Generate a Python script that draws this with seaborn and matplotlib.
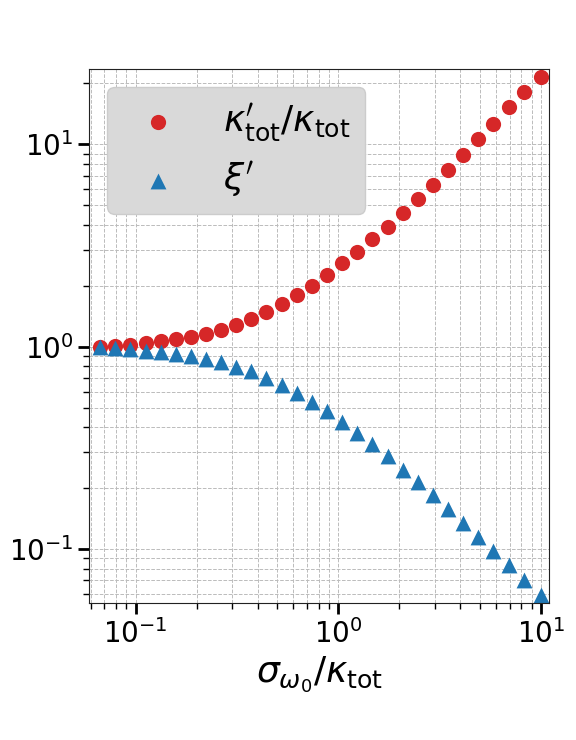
import numpy as np
import pandas as pd
import matplotlib
matplotlib.use("Agg")
import matplotlib.pyplot as plt
import seaborn as sns

# sigma_w0 / kappa_tot
x_vals = [0.0667, 0.0792, 0.0941, 0.112, 0.133, 0.158, 0.187, 0.222, 0.264, 0.314,
          0.372, 0.442, 0.525, 0.623, 0.740, 0.879, 1.04, 1.24, 1.47, 1.75,
          2.08, 2.47, 2.93, 3.48, 4.13, 4.91, 5.83, 6.92, 8.22, 10.0]
kappa_ratio = [1.00, 1.01, 1.02, 1.04, 1.06, 1.09, 1.12, 1.16, 1.21, 1.28,
               1.37, 1.48, 1.62, 1.79, 1.99, 2.26, 2.58, 2.94, 3.39, 3.92,
               4.55, 5.36, 6.32, 7.42, 8.86, 10.6, 12.6, 15.2, 18.1, 21.4]
xi_prime = [0.99, 0.98, 0.97, 0.955, 0.945, 0.92, 0.90, 0.866, 0.84, 0.79,
            0.755, 0.70, 0.647, 0.588, 0.535, 0.483, 0.425, 0.373, 0.33, 0.288,
            0.246, 0.214, 0.185, 0.158, 0.135, 0.115, 0.098, 0.083, 0.070, 0.0595]

df = pd.DataFrame({'x': x_vals, 'kappa': kappa_ratio, 'xi': xi_prime})

sns.set_style("ticks")
plt.rcParams['font.family'] = ['DejaVu Sans']
plt.rcParams['mathtext.fontset'] = 'dejavusans'
plt.rcParams['text.color'] = 'black'
plt.rcParams['axes.labelcolor'] = 'black'
plt.rcParams['xtick.color'] = 'black'
plt.rcParams['ytick.color'] = 'black'

fig, ax = plt.subplots(figsize=(5.76, 7.4), dpi=100)
fig.subplots_adjust(left=0.155, right=0.953, top=0.907, bottom=0.185)

sns.scatterplot(x='x', y='kappa', data=df, ax=ax, color='#d62728', marker='o',
                s=120, linewidth=0, label=r"$\kappa_{\rm tot}'/\kappa_{\rm tot}$")
sns.scatterplot(x='x', y='xi', data=df, ax=ax, color='#1f77b4', marker='^',
                s=130, linewidth=0, label=r"$\xi'$")

ax.set_xscale('log')
ax.set_yscale('log')
ax.set_xlim(0.0591, 10.95)
ax.set_ylim(0.054, 23.6)

ax.grid(True, which='both', linestyle='--', color='#bbbbbb', linewidth=0.7)
ax.tick_params(which='major', length=8, width=2, labelsize=20)
ax.tick_params(which='minor', length=4, width=1)
for s in ax.spines.values():
    s.set_color('#222222')

ax.set_xlabel(r"$\sigma_{\omega_0}/\kappa_{\rm tot}$", fontsize=26)
ax.set_ylabel("")

leg = ax.legend(loc='upper left', fontsize=26, frameon=True, facecolor='#d9d9d9',
                edgecolor='#cccccc', framealpha=1, handletextpad=0.8,
                borderpad=0.4, labelspacing=0.45)

plt.savefig('out.png')
